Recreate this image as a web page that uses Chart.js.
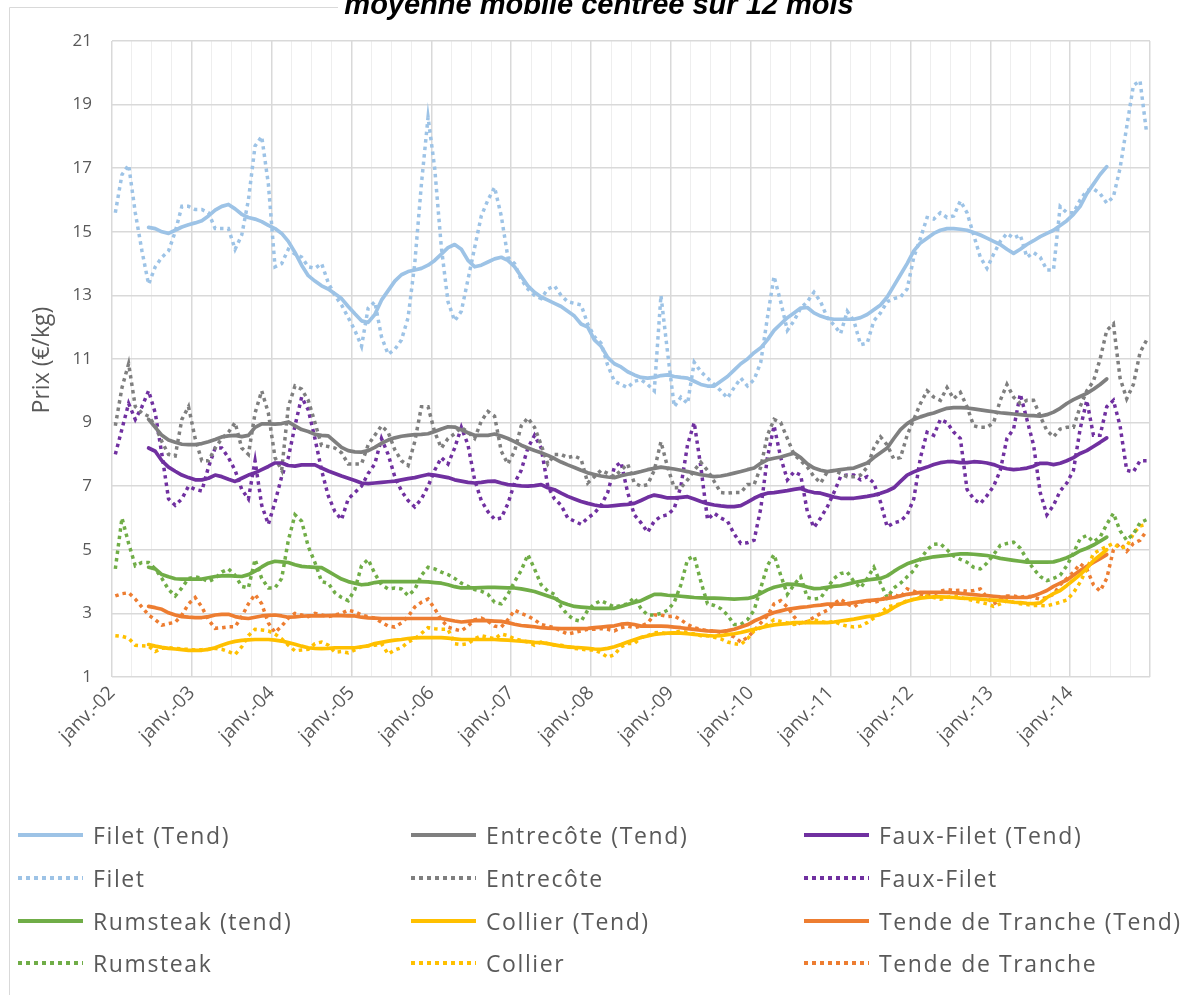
<!DOCTYPE html>
<html><head><meta charset="utf-8">
<script src="https://cdn.jsdelivr.net/npm/chart.js@4/dist/chart.umd.min.js"></script>
<style>
html,body{margin:0;padding:0;background:#fff;}
#wrap{position:relative;width:1182px;height:995px;overflow:hidden;background:#fff;}
#c{position:absolute;left:0;top:0;}
.item{position:absolute;height:30px;display:flex;align-items:center;font-family:'Open Sans',sans-serif;font-size:23px;letter-spacing:1.6px;color:#595959;white-space:nowrap;}
.sw{width:65px;height:3.5px;margin-right:10px;flex:none;}
</style></head><body>
<div id="wrap"><canvas id="c" width="1182" height="995"></canvas><div id="legend"></div></div>
<script>
const yearLabels = ['janv.-02','janv.-03','janv.-04','janv.-05','janv.-06','janv.-07','janv.-08','janv.-09','janv.-10','janv.-11','janv.-12','janv.-13','janv.-14'];
const TREND_START = 5;

const filet = [15.6,16.8,17.1,15.6,14.4,13.35,13.9,14.2,14.4,15.0,15.8,15.8,
15.7,15.7,15.6,15.1,15.1,15.1,14.45,14.9,16.0,17.7,18.0,16.5,
13.9,14.0,14.45,14.3,14.2,13.9,13.85,14.0,13.4,13.0,12.7,12.3,
11.9,11.4,12.6,12.8,11.7,11.15,11.3,11.6,12.3,14.0,16.5,18.6,
17.0,14.5,12.8,12.2,12.5,13.5,14.5,15.5,16.0,16.4,15.5,14.2,
14.0,13.5,13.2,13.0,12.9,13.2,13.3,13.0,12.8,12.75,12.7,12.1,
11.7,11.5,10.8,10.3,10.2,10.1,10.3,10.35,10.2,10.0,13.0,11.2,
9.5,9.8,9.6,10.9,10.6,10.4,10.2,10.0,9.77,10.1,10.4,10.15,
10.35,10.9,12.3,13.6,12.8,11.9,12.2,12.6,12.8,13.1,12.8,12.3,
12.07,11.8,12.5,12.2,11.45,11.5,12.2,12.45,12.8,12.9,12.95,13.2,
14.2,14.8,15.45,15.4,15.6,15.45,15.5,15.97,15.6,14.9,14.2,13.85,
14.3,14.7,14.95,14.8,14.9,14.2,14.35,14.2,13.8,13.8,15.8,15.6,
15.6,16.0,16.3,16.35,16.2,15.9,16.1,17.0,18.3,19.6,19.75,18.1];

const filetTend = [15.14,15.1,15.0,14.95,15.05,15.15,15.22,
15.28,15.35,15.5,15.68,15.8,15.86,15.72,15.55,15.45,15.4,15.32,15.2,
15.1,14.95,14.7,14.35,13.95,13.62,13.45,13.3,13.2,13.05,12.9,12.65,
12.42,12.2,12.15,12.4,12.85,13.15,13.45,13.65,13.75,13.8,13.85,13.95,
14.1,14.3,14.5,14.6,14.45,14.1,13.9,13.95,14.05,14.15,14.2,14.1,
13.9,13.6,13.3,13.1,12.95,12.85,12.75,12.65,12.5,12.35,12.1,12.0,
11.6,11.4,11.05,10.85,10.75,10.6,10.5,10.42,10.4,10.42,10.48,10.5,
10.45,10.42,10.4,10.3,10.2,10.15,10.15,10.3,10.45,10.65,10.85,11.0,
11.2,11.35,11.6,11.9,12.1,12.3,12.45,12.6,12.62,12.45,12.35,12.28,
12.25,12.25,12.25,12.25,12.3,12.4,12.55,12.7,12.95,13.3,13.65,14.0,
14.4,14.65,14.8,14.95,15.05,15.1,15.1,15.08,15.05,14.98,14.9,14.8,
14.7,14.6,14.45,14.32,14.45,14.6,14.72,14.85,14.95,15.05,15.2,15.35,
15.55,15.8,16.2,16.5,16.8,17.05];

const entrecote = [8.9,10.1,10.85,9.5,9.3,9.2,8.9,8.4,8.0,7.95,9.1,9.5,
8.5,7.8,7.8,8.2,8.5,8.7,9.0,8.2,8.0,9.3,10.0,9.3,
7.9,7.5,9.5,10.15,10.05,9.7,9.0,8.28,8.25,8.2,8.05,7.7,
7.7,7.7,8.3,8.6,8.9,8.7,8.15,7.8,7.65,8.4,9.5,9.5,
8.7,8.2,8.5,8.65,8.85,8.7,8.5,9.05,9.35,9.2,8.1,7.7,
8.1,8.9,9.15,8.85,8.3,7.7,8.0,8.0,7.9,7.95,7.85,7.1,
7.3,7.5,7.4,7.3,7.5,7.7,7.1,7.0,7.05,7.5,8.4,7.6,
6.95,6.95,7.2,7.5,7.75,7.5,7.15,6.8,6.78,6.8,6.8,7.05,
7.05,7.6,8.6,9.1,9.0,8.5,8.0,7.8,7.6,7.3,7.1,7.45,
7.5,7.4,7.3,7.3,7.35,7.6,8.2,8.55,8.3,7.85,7.9,8.6,
9.1,9.6,10.0,9.8,9.7,10.1,9.75,9.95,9.5,8.9,8.85,8.85,
9.0,9.7,10.2,9.8,9.6,9.7,9.7,9.2,8.75,8.55,8.8,8.85,
8.85,9.5,10.0,10.3,11.0,11.9,12.1,10.4,9.75,10.2,11.2,11.6];

const entrecoteTend = [9.1,8.85,8.6,8.45,8.38,8.32,8.31,
8.31,8.34,8.4,8.47,8.55,8.58,8.6,8.56,8.6,8.85,8.96,8.96,
8.95,8.97,9.02,8.9,8.78,8.72,8.63,8.6,8.58,8.4,8.22,8.12,
8.08,8.07,8.12,8.22,8.35,8.45,8.52,8.57,8.6,8.62,8.63,8.65,
8.72,8.8,8.87,8.86,8.77,8.68,8.6,8.6,8.6,8.64,8.58,8.5,
8.4,8.29,8.2,8.12,8.05,7.97,7.87,7.76,7.67,7.59,7.5,7.42,
7.37,7.32,7.29,7.27,7.33,7.38,7.41,7.46,7.52,7.56,7.6,7.57,
7.54,7.5,7.46,7.41,7.36,7.33,7.3,7.32,7.36,7.41,7.46,7.52,
7.57,7.72,7.83,7.88,7.92,7.98,8.04,7.9,7.7,7.57,7.5,7.46,
7.49,7.52,7.55,7.57,7.65,7.73,7.9,8.05,8.2,8.5,8.78,8.97,
9.1,9.18,9.25,9.3,9.38,9.45,9.47,9.47,9.46,9.43,9.4,9.37,
9.34,9.31,9.29,9.27,9.25,9.23,9.22,9.2,9.25,9.33,9.45,9.6,
9.72,9.82,9.92,10.05,10.2,10.37];

const fauxFilet = [8.0,8.8,9.6,9.1,9.5,10.0,9.3,8.0,6.6,6.4,6.6,7.0,
6.9,6.85,7.6,8.2,8.2,7.9,7.5,6.9,6.6,7.8,6.4,5.8,
6.5,7.3,7.9,8.9,9.8,9.4,8.5,7.5,6.7,6.2,5.95,6.6,
6.8,7.0,7.4,7.7,8.5,8.0,7.3,6.85,6.55,6.35,6.6,7.0,
7.5,7.9,7.7,8.2,8.85,8.3,7.2,6.55,6.2,5.96,6.0,6.45,
7.1,7.5,8.2,8.6,8.2,7.0,6.6,6.4,6.0,5.9,5.8,6.0,
6.15,6.4,6.8,7.6,7.75,6.8,6.1,5.85,5.55,5.9,6.05,6.1,
6.3,7.0,8.3,9.0,7.6,5.95,6.15,6.0,5.9,5.5,5.2,5.22,
5.3,6.3,7.9,8.9,7.9,7.2,7.45,7.35,6.2,5.7,6.0,6.35,
6.8,7.3,7.35,7.35,7.2,7.3,7.1,6.5,5.72,5.85,5.9,6.1,
6.6,7.9,8.7,8.6,9.1,9.0,8.7,8.5,6.9,6.6,6.45,6.7,
7.0,7.5,8.5,8.8,9.9,9.1,8.3,6.8,6.1,6.4,6.85,7.1,
7.5,8.8,9.7,8.6,8.6,9.5,9.7,8.9,7.5,7.45,7.8,7.8];

const fauxFiletTend = [8.2,8.1,7.8,7.6,7.47,7.35,7.27,
7.2,7.2,7.25,7.35,7.3,7.22,7.15,7.25,7.35,7.42,7.52,7.62,
7.73,7.73,7.65,7.63,7.67,7.67,7.67,7.57,7.48,7.4,7.32,7.25,
7.18,7.1,7.08,7.1,7.12,7.14,7.16,7.2,7.24,7.27,7.32,7.37,
7.35,7.31,7.27,7.2,7.16,7.12,7.1,7.12,7.15,7.16,7.1,7.05,
7.03,7.01,7.0,7.02,7.05,6.95,6.89,6.78,6.68,6.6,6.52,6.46,
6.41,6.37,6.37,6.39,6.41,6.43,6.46,6.55,6.65,6.72,6.68,6.63,
6.63,6.65,6.67,6.6,6.52,6.45,6.41,6.38,6.36,6.36,6.39,6.5,
6.62,6.72,6.78,6.8,6.83,6.86,6.9,6.93,6.85,6.8,6.78,6.72,
6.66,6.62,6.62,6.62,6.65,6.68,6.72,6.78,6.85,6.95,7.15,7.35,
7.45,7.53,7.6,7.68,7.74,7.77,7.77,7.74,7.74,7.77,7.76,7.73,
7.68,7.6,7.55,7.52,7.54,7.57,7.63,7.72,7.72,7.68,7.72,7.8,
7.9,8.03,8.12,8.25,8.38,8.52];

const rumsteak = [4.4,6.0,5.2,4.5,4.6,4.6,4.4,4.1,3.75,3.55,3.8,4.1,
4.15,4.1,4.0,4.1,4.3,4.4,4.2,3.85,3.8,4.7,4.1,3.8,
3.8,4.1,5.3,6.1,5.9,5.1,4.6,4.0,3.95,3.65,3.5,3.4,
3.75,4.5,4.7,4.25,3.9,3.77,3.8,3.77,3.56,3.75,4.2,4.45,
4.4,4.3,4.22,4.1,3.95,3.85,3.75,3.7,3.6,3.35,3.3,3.6,
4.0,4.35,4.85,4.4,3.9,3.7,3.6,3.2,2.95,2.8,2.75,3.1,
3.3,3.4,3.3,3.2,3.25,3.3,3.5,3.15,2.95,2.95,3.0,3.1,
3.35,3.9,4.7,4.8,4.0,3.3,3.25,3.15,2.95,2.65,2.65,2.8,
3.1,3.8,4.5,4.85,4.2,3.6,3.9,4.15,3.5,3.45,3.48,3.8,
4.1,4.25,4.3,4.0,3.8,4.1,4.45,3.95,3.5,3.8,3.95,4.15,
4.35,4.7,5.0,5.17,5.19,5.0,4.8,4.7,4.61,4.45,4.4,4.58,
4.85,5.14,5.2,5.24,5.05,4.7,4.4,4.16,4.03,4.1,4.2,4.5,
4.9,5.35,5.45,5.25,5.4,5.8,6.15,5.6,5.3,5.5,5.85,5.95];

const rumsteakTend = [4.45,4.4,4.22,4.15,4.09,4.08,4.08,
4.08,4.08,4.12,4.16,4.18,4.19,4.17,4.16,4.22,4.33,4.46,4.58,
4.64,4.62,4.6,4.53,4.48,4.46,4.45,4.44,4.32,4.2,4.08,4.0,
3.95,3.9,3.92,3.97,4.0,4.0,4.0,4.0,4.0,4.0,4.0,3.99,
3.97,3.95,3.9,3.84,3.8,3.8,3.8,3.81,3.82,3.82,3.81,3.8,
3.8,3.77,3.73,3.69,3.62,3.55,3.48,3.35,3.28,3.22,3.2,3.18,
3.16,3.16,3.16,3.16,3.22,3.28,3.34,3.4,3.5,3.6,3.6,3.57,
3.56,3.54,3.52,3.5,3.49,3.48,3.48,3.47,3.46,3.45,3.46,3.47,
3.52,3.63,3.74,3.82,3.87,3.92,3.91,3.89,3.83,3.78,3.79,3.82,
3.85,3.87,3.92,3.97,4.01,4.05,4.08,4.1,4.18,4.32,4.45,4.56,
4.63,4.7,4.74,4.78,4.8,4.82,4.85,4.87,4.87,4.86,4.84,4.82,
4.78,4.73,4.7,4.67,4.64,4.61,4.61,4.61,4.61,4.62,4.68,4.75,
4.85,4.97,5.05,5.15,5.27,5.4];

const collier = [2.3,2.28,2.22,2.0,1.98,1.97,1.8,1.9,1.92,1.9,1.88,1.87,
1.85,1.86,1.87,1.9,1.87,1.8,1.71,1.95,2.3,2.5,2.48,2.45,
2.35,2.2,2.0,1.82,1.85,1.87,2.05,2.1,2.0,1.78,1.8,1.76,
1.85,1.95,1.98,2.0,2.05,1.72,1.85,1.92,2.1,2.2,2.37,2.55,
2.52,2.5,2.5,2.05,2.02,2.05,2.2,2.3,2.25,2.2,2.35,2.3,
2.2,2.15,2.1,2.0,2.1,2.05,2.0,2.0,1.95,1.9,1.88,1.85,
1.85,1.76,1.62,1.7,1.95,2.05,2.05,2.24,2.3,2.39,2.4,2.35,
2.4,2.45,2.4,2.35,2.3,2.3,2.25,2.2,2.1,2.05,2.02,2.2,
2.45,2.55,2.65,2.8,2.75,2.7,2.65,2.7,2.75,2.8,2.75,2.7,
2.75,2.65,2.6,2.57,2.6,2.71,2.85,3.0,3.2,3.25,3.3,3.4,
3.45,3.5,3.55,3.5,3.45,3.5,3.55,3.5,3.45,3.4,3.35,3.3,
3.22,3.3,3.4,3.35,3.3,3.28,3.25,3.25,3.24,3.29,3.35,3.42,
3.65,3.98,4.4,4.88,5.0,5.1,5.2,5.05,5.1,5.5,5.75,5.8];

const collierTend = [2.02,1.97,1.93,1.9,1.88,1.86,1.84,
1.84,1.84,1.87,1.92,2.0,2.07,2.12,2.15,2.17,2.18,2.18,2.18,
2.16,2.13,2.08,2.03,1.97,1.92,1.9,1.89,1.9,1.92,1.92,1.92,
1.92,1.95,1.98,2.05,2.09,2.13,2.16,2.18,2.21,2.23,2.24,2.24,
2.24,2.24,2.22,2.2,2.18,2.18,2.18,2.18,2.18,2.18,2.17,2.16,
2.14,2.13,2.11,2.09,2.08,2.05,2.01,1.97,1.95,1.93,1.92,1.9,
1.88,1.87,1.9,1.95,2.02,2.1,2.17,2.24,2.29,2.34,2.36,2.38,
2.39,2.38,2.36,2.34,2.32,2.3,2.29,2.3,2.33,2.36,2.4,2.45,
2.5,2.55,2.6,2.64,2.66,2.68,2.71,2.71,2.71,2.71,2.71,2.71,
2.73,2.76,2.79,2.82,2.86,2.9,2.92,2.97,3.05,3.19,3.3,3.38,
3.44,3.48,3.5,3.52,3.52,3.51,3.5,3.48,3.47,3.46,3.45,3.43,
3.42,3.4,3.38,3.35,3.34,3.32,3.31,3.33,3.5,3.62,3.72,3.88,
4.05,4.22,4.42,4.66,4.83,5.0];

const tende = [3.55,3.62,3.65,3.45,3.2,2.95,2.8,2.63,2.68,2.72,2.95,3.3,
3.5,3.2,2.8,2.53,2.55,2.58,2.58,2.9,3.3,3.6,3.3,2.7,
2.4,2.6,2.85,3.0,2.95,2.9,3.0,2.95,2.9,2.95,3.0,3.1,
3.05,2.95,2.9,2.85,2.72,2.6,2.57,2.7,2.9,3.2,3.35,3.45,
3.15,2.8,2.57,2.5,2.45,2.6,2.8,2.85,2.75,2.6,2.57,2.8,
3.1,3.0,2.92,2.8,2.65,2.6,2.55,2.45,2.35,2.4,2.45,2.5,
2.5,2.52,2.5,2.45,2.55,2.6,2.55,2.6,2.7,2.95,2.95,2.9,
2.92,2.8,2.65,2.55,2.5,2.45,2.45,2.4,2.35,2.26,2.1,2.25,
2.45,2.7,2.92,3.3,3.4,3.2,2.9,2.65,2.75,2.88,3.0,3.1,
3.3,3.45,3.3,3.2,3.35,3.4,3.35,3.4,3.55,3.6,3.5,3.77,
3.7,3.6,3.55,3.6,3.7,3.75,3.72,3.73,3.7,3.72,3.77,3.5,
3.29,3.45,3.55,3.55,3.5,3.55,3.5,3.45,3.5,3.6,3.9,4.1,
4.3,4.56,4.4,3.9,3.7,4.1,5.0,5.2,4.95,5.2,5.3,5.6];

const tendeTend = [3.22,3.18,3.13,3.02,2.95,2.9,2.88,
2.87,2.87,2.9,2.95,2.97,2.97,2.9,2.86,2.84,2.88,2.92,2.94,
2.95,2.92,2.88,2.89,2.91,2.92,2.92,2.92,2.93,2.94,2.93,2.92,
2.92,2.88,2.86,2.85,2.84,2.84,2.84,2.84,2.84,2.84,2.84,2.84,
2.84,2.84,2.8,2.76,2.73,2.75,2.77,2.78,2.77,2.76,2.75,2.71,
2.66,2.62,2.6,2.58,2.55,2.54,2.53,2.52,2.52,2.52,2.52,2.53,
2.55,2.57,2.59,2.61,2.66,2.68,2.65,2.6,2.6,2.6,2.6,2.59,
2.57,2.55,2.52,2.5,2.47,2.45,2.44,2.43,2.46,2.5,2.57,2.64,
2.76,2.85,2.95,3.03,3.08,3.13,3.16,3.19,3.21,3.24,3.26,3.29,
3.29,3.29,3.31,3.34,3.37,3.4,3.42,3.44,3.47,3.5,3.55,3.6,
3.63,3.66,3.66,3.66,3.66,3.66,3.65,3.63,3.61,3.59,3.57,3.56,
3.54,3.52,3.51,3.5,3.5,3.5,3.55,3.63,3.72,3.85,3.95,4.05,
4.2,4.35,4.48,4.6,4.72,4.85];

const COL = {filet:'#9DC3E6', entrecote:'#7F7F7F', faux:'#7030A0', rumsteak:'#70AD47', collier:'#FFC000', tende:'#ED7D31'};
const DOT = [3.5, 4];

function rawPts(arr){ return arr.map((v,i)=>({x:i+0.5, y:v})); }
function trendPts(arr){ return arr.map((v,i)=>({x:i+TREND_START+0.5, y:v})); }
function trendDs(label, arr, color){ return {label, data:trendPts(arr), borderColor:color, borderWidth:3.7, pointRadius:0, order:0, borderCapStyle:'round', borderJoinStyle:'round'}; }
function rawDs(label, arr, color){ return {label, data:rawPts(arr), borderColor:color, borderWidth:3.5, borderDash:DOT, pointRadius:0, order:1, borderCapStyle:'butt'}; }

const datasets = [
  trendDs('Filet (Tend)', filetTend, COL.filet),
  trendDs('Entrecôte (Tend)', entrecoteTend, COL.entrecote),
  trendDs('Faux-Filet (Tend)', fauxFiletTend, COL.faux),
  rawDs('Filet', filet, COL.filet),
  rawDs('Entrecôte', entrecote, COL.entrecote),
  rawDs('Faux-Filet', fauxFilet, COL.faux),
  trendDs('Rumsteak (tend)', rumsteakTend, COL.rumsteak),
  trendDs('Collier (Tend)', collierTend, COL.collier),
  trendDs('Tende de Tranche (Tend)', tendeTend, COL.tende),
  rawDs('Rumsteak', rumsteak, COL.rumsteak),
  rawDs('Collier', collier, COL.collier),
  rawDs('Tende de Tranche', tende, COL.tende)
];

const deco = {
  id:'deco',
  afterDraw(chart){
    const c = chart.ctx;
    c.save();
    c.strokeStyle = '#d9d9d9'; c.lineWidth = 1;
    c.beginPath(); c.moveTo(9.5, 995); c.lineTo(9.5, 7.5); c.lineTo(338, 7.5); c.stroke();
    c.fillStyle = '#000';
    c.font = 'bold italic 29px "Liberation Sans", Arial, sans-serif';
    c.textAlign = 'center'; c.textBaseline = 'alphabetic';
    c.fillText('moyenne mobile centrée sur 12 mois', 599, 14);
    c.translate(42, 360); c.rotate(-Math.PI/2);
    c.fillStyle = '#595959';
    c.font = '23px "Open Sans", sans-serif';
    c.textBaseline = 'middle';
    c.fillText('Prix (€/kg)', 0, 0);
    c.restore();
  }
};

new Chart(document.getElementById('c'), {
  type:'line',
  data:{datasets},
  options:{
    responsive:false, animation:false,
    layout:{padding:{left:0, right:32, top:41, bottom:0}},
    plugins:{legend:{display:false}, tooltip:{enabled:false}, title:{display:false}},
    elements:{point:{radius:0}, line:{tension:0}},
    scales:{
      x:{type:'linear', min:0, max:156,
        afterFit(s){ s.height = 318; },
        ticks:{stepSize:3, maxTicksLimit:200, autoSkip:false, minRotation:45, maxRotation:45, padding:5,
          color:'#595959', font:{family:'Open Sans', size:19},
          callback:(v)=> (v%12===0 && v/12 < yearLabels.length) ? yearLabels[v/12] : ''},
        grid:{drawTicks:false,
          color:(c)=> (c.tick && c.tick.value%12===0) ? '#d9d9d9' : '#eeeeee',
          lineWidth:(c)=> (c.tick && c.tick.value%12===0) ? 1.5 : 1},
        border:{display:false}
      },
      y:{min:1, max:21,
        afterFit(s){ s.width = 112; },
        ticks:{stepSize:2, padding:20, color:'#595959', font:{family:'Open Sans', size:17}},
        grid:{drawTicks:false, color:'#d9d9d9', lineWidth:1.5},
        border:{display:false}
      }
    }
  },
  plugins:[deco]
});

// legend
const legendItems = [
  ['Filet (Tend)', COL.filet, false, 18, 835], ['Entrecôte (Tend)', COL.entrecote, false, 411, 835], ['Faux-Filet (Tend)', COL.faux, false, 804, 835],
  ['Filet', COL.filet, true, 18, 878], ['Entrecôte', COL.entrecote, true, 411, 878], ['Faux-Filet', COL.faux, true, 804, 878],
  ['Rumsteak (tend)', COL.rumsteak, false, 18, 921], ['Collier (Tend)', COL.collier, false, 411, 921], ['Tende de Tranche (Tend)', COL.tende, false, 804, 921],
  ['Rumsteak', COL.rumsteak, true, 18, 963], ['Collier', COL.collier, true, 411, 963], ['Tende de Tranche', COL.tende, true, 804, 963]
];
const lg = document.getElementById('legend');
legendItems.forEach(([t, col, dotted, x, y])=>{
  const d = document.createElement('div'); d.className='item';
  d.style.left = x+'px'; d.style.top = (y-15)+'px';
  const s = document.createElement('div'); s.className='sw';
  s.style.background = dotted ? `repeating-linear-gradient(90deg, ${col} 0 4px, transparent 4px 8px)` : col;
  const span = document.createElement('span'); span.textContent = t;
  d.appendChild(s); d.appendChild(span); lg.appendChild(d);
});
</script>
</body></html>
